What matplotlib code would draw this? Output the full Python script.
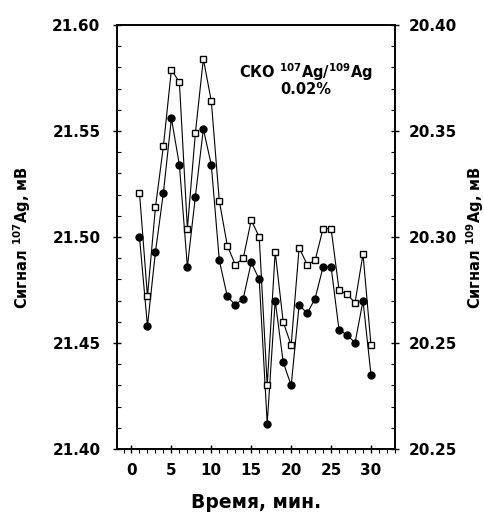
import numpy as np
import matplotlib.pyplot as plt
from matplotlib.ticker import MultipleLocator

plt.rcParams['font.family'] = ['DejaVu Sans']
plt.rcParams['font.weight'] = 'bold'

# Time, min
time_min = list(range(1, 31))

# 107Ag signal, mV (filled circles, left axis)
ag107 = [21.500, 21.458, 21.493, 21.521, 21.556, 21.534, 21.486, 21.519, 21.551, 21.534,
         21.489, 21.472, 21.468, 21.471, 21.488, 21.480, 21.412, 21.470, 21.441, 21.430,
         21.468, 21.464, 21.471, 21.486, 21.486, 21.456, 21.454, 21.450, 21.470, 21.435]

# 109Ag signal, mV (open squares, right axis)
ag109 = [20.321, 20.272, 20.314, 20.343, 20.379, 20.373, 20.304, 20.349, 20.384, 20.364,
         20.317, 20.296, 20.287, 20.290, 20.308, 20.300, 20.230, 20.293, 20.260, 20.249,
         20.295, 20.287, 20.289, 20.304, 20.304, 20.275, 20.273, 20.269, 20.292, 20.249]

left_ticks = [21.40, 21.45, 21.50, 21.55, 21.60]
right_ticks = [20.20, 20.25, 20.30, 20.35, 20.40]
right_labels = ['20.25', '20.25', '20.30', '20.35', '20.40']  # as printed in the original

fig = plt.figure(figsize=(4.84, 5.12), dpi=100)
ax = fig.add_axes([0.242, 0.123, 0.574, 0.828])
ax2 = ax.twinx()

ax.plot(time_min, ag107, '-', color='black', lw=0.8, marker='o', ms=5,
        mfc='black', mec='black', zorder=3)
ax2.plot(time_min, ag109, '-', color='black', lw=0.8, marker='s', ms=5,
         mfc='white', mec='black', mew=1.0, zorder=3)

ax.set_xlim(-1.8, 33.0)
ax.set_ylim(21.40, 21.60)
ax2.set_ylim(20.20, 20.40)

ax.set_xticks([0, 5, 10, 15, 20, 25, 30])
ax.xaxis.set_minor_locator(MultipleLocator(1))
ax.set_yticks(left_ticks)
ax.set_yticklabels(['%.2f' % v for v in left_ticks])
ax.yaxis.set_minor_locator(MultipleLocator(0.01))
ax2.set_yticks(right_ticks)
ax2.set_yticklabels(right_labels)
ax2.yaxis.set_minor_locator(MultipleLocator(0.01))

ax.tick_params(axis='x', which='major', direction='inout', length=6, width=1, labelsize=11, pad=7)
ax.tick_params(axis='x', which='minor', direction='out', length=3, width=0.8)
ax.tick_params(axis='y', which='major', direction='inout', length=6, width=1, labelsize=11, pad=9)
ax.tick_params(axis='y', which='minor', direction='in', length=3, width=0.8)
ax2.tick_params(axis='y', which='major', direction='inout', length=6, width=1, labelsize=11, pad=7)
ax2.tick_params(axis='y', which='minor', direction='in', length=3, width=0.8)

for a in (ax, ax2):
    for s in a.spines.values():
        s.set_linewidth(1.2)

ax.set_xlabel('Время, мин.', fontsize=13.5, fontweight='bold')
ax.xaxis.set_label_coords(0.5, -0.125)
ax.xaxis.label.set_va('center')
ax.set_ylabel('Сигнал $^{\\mathbf{107}}$Ag, мВ', fontsize=10.5, fontweight='bold')
ax.yaxis.set_label_coords(-0.342, 0.5)
ax.yaxis.label.set_va('center')
ax2.set_ylabel('Сигнал $^{\\mathbf{109}}$Ag, мВ', fontsize=10.5, fontweight='bold')
ax2.yaxis.set_label_coords(1.287, 0.5)
ax2.yaxis.label.set_va('center')

ax.text(0.68, 0.889, 'СКО $^{\\mathbf{107}}$Ag/$^{\\mathbf{109}}$Ag', transform=ax.transAxes,
        ha='center', va='center', fontsize=10.5, fontweight='bold')
ax.text(0.68, 0.847, '0.02%', transform=ax.transAxes,
        ha='center', va='center', fontsize=10.5, fontweight='bold')

fig.savefig('out.png', dpi=100)
